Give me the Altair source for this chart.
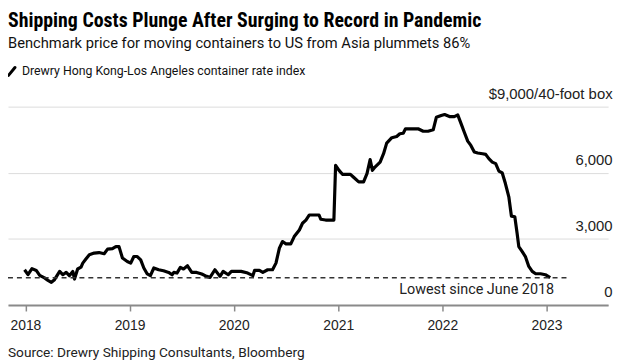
import altair as alt
import pandas as pd

dates = ["2017-12-29","2018-01-10","2018-01-24","2018-02-08","2018-02-20","2018-03-09","2018-03-21","2018-04-02",
"2018-04-13","2018-05-01","2018-05-12","2018-05-24","2018-06-04","2018-06-16","2018-06-22","2018-07-03","2018-07-15",
"2018-07-21","2018-08-01","2018-08-13","2018-08-30","2018-09-16","2018-10-04","2018-10-16","2018-11-02","2018-11-14",
"2018-11-25","2018-12-07","2018-12-24","2019-01-05","2019-01-16","2019-01-28","2019-02-09","2019-02-20","2019-03-04",
"2019-03-15","2019-03-27","2019-04-13","2019-04-30","2019-05-18","2019-05-30","2019-06-05","2019-06-16","2019-06-28",
"2019-07-09","2019-07-23","2019-08-07","2019-08-24","2019-09-11","2019-09-28","2019-10-10","2019-10-27","2019-11-14",
"2019-11-25","2019-12-13","2019-12-24","2020-01-10","2020-01-27","2020-02-19","2020-03-08","2020-03-14","2020-03-31",
"2020-04-12","2020-04-29","2020-05-16","2020-05-28","2020-06-09","2020-06-20","2020-07-02","2020-07-19","2020-07-31",
"2020-08-18","2020-08-29","2020-09-10","2020-09-22","2020-10-09","2020-10-26","2020-11-01","2020-11-18","2020-12-17",
"2020-12-23","2021-01-04","2021-01-16","2021-02-13","2021-02-25","2021-03-14","2021-03-31","2021-04-12","2021-04-23",
"2021-05-01","2021-05-10","2021-05-28","2021-06-09","2021-06-20","2021-07-08","2021-07-25","2021-08-05","2021-08-17",
"2021-08-25","2021-09-15","2021-10-08","2021-10-26","2021-11-12","2021-11-30","2021-12-11","2021-12-28","2022-01-09",
"2022-01-26","2022-02-12","2022-02-24","2022-03-08","2022-03-19","2022-03-31","2022-04-11","2022-04-23","2022-05-05",
"2022-05-22","2022-06-02","2022-06-13","2022-06-25","2022-07-07","2022-07-18","2022-07-30","2022-08-10","2022-08-22",
"2022-08-31","2022-09-12","2022-09-20","2022-09-26","2022-10-08","2022-10-19","2022-10-31","2022-11-12","2022-11-24",
"2022-12-11","2022-12-28","2023-01-14"]

values = [1600,1380,1650,1570,1345,1230,1120,1030,
1150,1525,1375,1480,1330,1525,1180,1635,1720,
1900,2085,2280,2355,2380,2325,2535,2560,2650,
2650,2130,1975,1900,2200,2200,2050,1680,1410,
1330,1680,1600,1555,1480,1375,1480,1450,1705,
1635,1780,1480,1480,1405,1300,1255,1600,1300,
1525,1375,1525,1525,1525,1450,1330,1570,1570,
1480,1600,1600,1900,2580,2880,2775,2775,3105,
3405,3710,3855,4085,4085,4085,3890,3855,3855,
6340,6110,5930,5930,5785,5585,5585,5965,6595,
6110,6260,6485,6865,7345,7590,7645,7770,7795,
7995,7995,7995,7885,7885,7950,8515,8595,8640,
8550,8550,8625,8220,7840,7435,7240,6940,6895,
6865,6835,6640,6485,6415,6080,5990,5510,4910,
4035,4005,3255,2650,2425,2200,1750,1525,1420,
1420,1375,1240]

years = [2018, 2019, 2020, 2021, 2022, 2023]
y_ticks = [0, 3000, 6000, 9000]
low_value = 1240
low_start = "2017-11-01"
low_end = "2023-03-19"

title = "Shipping Costs Plunge After Surging to Record in Pandemic"
subtitle = "Benchmark price for moving containers to US from Asia plummets 86%"
legend_label = "Drewry Hong Kong-Los Angeles container rate index"
source = "Source: Drewry Shipping Consultants, Bloomberg"
note = "Lowest since June 2018"

FONT = "Roboto, Liberation Sans"
AXFONT = "Liberation Sans"
NARROW = "Liberation Sans Narrow, Roboto Condensed, DejaVu Sans Condensed, Liberation Sans"

df = pd.DataFrame({"date": dates, "value": values})

x_scale = alt.Scale(domain=[alt.DateTime(year=2017, month=11, date=1),
                            alt.DateTime(year=2023, month=8, date=5)])
y_scale = alt.Scale(domain=[0, 9000], nice=False)

x_axis = alt.Axis(values=[alt.DateTime(year=y, month=1, date=1) for y in years], format="%Y",
                  title=None, grid=False, domainColor="#8a8a8a", domainWidth=2,
                  tickColor="#8a8a8a", tickWidth=1.5, tickSize=6, labelPadding=8,
                  labelFont=AXFONT, labelFontSize=14, labelColor="#222")
y_axis = alt.Axis(orient="right", values=y_ticks, title=None, domain=False, ticks=False,
                  grid=True, gridColor="#dcdcdc", gridWidth=1,
                  labelAlign="right", labelBaseline="alphabetic", labelOffset=-8.5, labelPadding=4,
                  labelFont=AXFONT, labelFontSize=15, labelColor="#222",
                  labelExpr="datum.value == 9000 ? '$9,000/40-foot box' : format(datum.value, ',')")

line = alt.Chart(df).mark_line(color="#000", strokeWidth=3.2, strokeJoin="round").encode(
    x=alt.X("date:T", scale=x_scale, axis=x_axis),
    y=alt.Y("value:Q", scale=y_scale, axis=y_axis),
)

low_df = pd.DataFrame({"date": [low_start], "date2": [low_end], "value": [low_value]})
rule = alt.Chart(low_df).mark_rule(color="#333", strokeWidth=1.5, strokeDash=[5, 4]).encode(
    x="date:T", x2="date2:T", y="value:Q")

note_df = pd.DataFrame({"date": [dates[-1]], "value": [low_value], "t": [note]})
note_text = alt.Chart(note_df).mark_text(align="right", baseline="alphabetic", dy=16, dx=4,
                                          font=FONT, fontSize=14.5, color="#222").encode(
    x="date:T", y="value:Q", text="t:N")


def label(text, px, py, size, weight="normal", font=FONT, color="#111"):
    return alt.Chart(pd.DataFrame({"t": [text]})).mark_text(
        align="left", baseline="alphabetic", font=font, fontSize=size, fontWeight=weight, color=color
    ).encode(x=alt.value(px), y=alt.value(py), text="t:N")


t1 = label(title, 0, -80.5, 20, "bold", NARROW, "#000")
t2 = label(subtitle, 0, -58.7, 14.8, color="#111")
t3 = label(legend_label, 14, -32, 12.4, color="#111")
t4 = label(source, 0, 252, 13.8, color="#222")
icon = alt.Chart(pd.DataFrame({"k": [0]})).mark_rule(color="#000", strokeWidth=3, strokeCap="round").encode(
    x=alt.value(0.5), x2=alt.value(7.0), y=alt.value(-31.5), y2=alt.value(-39.5))

chart = alt.layer(line, rule, note_text, t1, t2, t3, t4, icon).properties(
    width=605, height=200,
    autosize=alt.AutoSizeParams(type="none"),
    padding={"left": 0, "top": 98, "right": 16, "bottom": 56},
).configure_view(stroke=None)

chart.save("out.html", embed_options={"renderer": "svg", "actions": False})
